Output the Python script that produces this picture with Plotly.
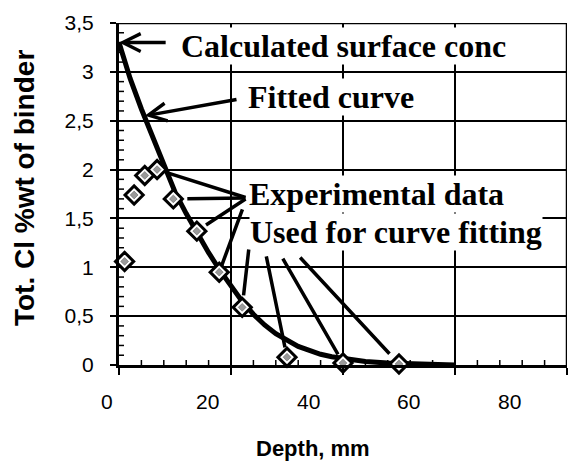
import plotly.graph_objects as go

# Measured total chloride profile (depth in mm, % by weight of binder)
depth_mm = [1, 2.7, 4.6, 6.8, 9.7, 13.9, 17.9, 22, 30, 40, 50]
cl_pct = [1.06, 1.74, 1.94, 2.00, 1.70, 1.37, 0.95, 0.59, 0.08, 0.02, 0.01]

# Fitted diffusion profile
fit_depth = [0, 2, 4, 6, 8, 10, 12, 14, 16, 18, 20, 22, 24, 26, 28, 30,
             32, 34, 36, 38, 40, 44, 48, 52, 56, 60]
fit_cl = [3.30, 2.93, 2.62, 2.33, 2.04, 1.77, 1.55, 1.34, 1.15, 0.97, 0.80,
          0.65, 0.52, 0.41, 0.32, 0.25, 0.19, 0.15, 0.11, 0.085, 0.065,
          0.035, 0.02, 0.01, 0.005, 0.0]

# Axis ticks
x_ticks = [0, 20, 40, 60, 80]
x_labels = ["0", "20", "40", "60", "80"]
y_ticks = [0, 0.5, 1, 1.5, 2, 2.5, 3, 3.5]
y_labels = ["0", "0,5", "1", "1,5", "2", "2,5", "3", "3,5"]
x_minor = [v for v in range(4, 80, 4) if v % 20]
y_minor = [round(k * 0.1, 1) for k in range(1, 35) if k % 5]

SANS = "Liberation Sans, Arial, sans-serif"
SERIF = "Liberation Serif, Times New Roman, serif"

W, H = 583, 463
MARGIN = dict(l=119, r=16, t=23, b=98)
X_RANGE = [x_ticks[0], x_ticks[-1]]
Y_RANGE = [y_ticks[0], y_ticks[-1]]
# data units per screen pixel
DX = (X_RANGE[1] - X_RANGE[0]) / (W - MARGIN["l"] - MARGIN["r"])
DY = (Y_RANGE[1] - Y_RANGE[0]) / (H - MARGIN["t"] - MARGIN["b"])

# the depth labels sit on a slightly narrower scale than the plot frame
LABEL_SCALE, LABEL_SHIFT = 0.897, -2.1


def segments(pairs):
    xs, ys = [], []
    for (x0, y0), (x1, y1) in pairs:
        xs += [x0, x1, None]
        ys += [y0, y1, None]
    return xs, ys


def frame_trace(pairs, width):
    xs, ys = segments(pairs)
    return go.Scatter(x=xs, y=ys, mode="lines", cliponaxis=False,
                      line=dict(color="black", width=width),
                      showlegend=False, hoverinfo="skip")


fig = go.Figure()

# vertical grid lines
fig.add_trace(frame_trace(
    [((v, Y_RANGE[0]), (v, Y_RANGE[1])) for v in x_ticks[1:-1]], 1.5))
# top and right edges of the frame
fig.add_trace(frame_trace(
    [((X_RANGE[0], Y_RANGE[1]), (X_RANGE[1], Y_RANGE[1])),
     ((X_RANGE[1], Y_RANGE[0]), (X_RANGE[1], Y_RANGE[1]))], 2.5))
# major depth ticks (outside) and minor ticks (inside)
fig.add_trace(frame_trace(
    [((v, Y_RANGE[0]), (v, Y_RANGE[0] - 7 * DY)) for v in x_ticks]
    + [((v, Y_RANGE[0]), (v, Y_RANGE[0] + 5 * DY)) for v in x_minor]
    + [((X_RANGE[0], v), (X_RANGE[0] + 5 * DX, v)) for v in y_minor], 1.5))

fig.add_trace(go.Scatter(
    x=fit_depth, y=fit_cl, mode="lines",
    line=dict(color="black", width=5), cliponaxis=False, showlegend=False,
))
fig.add_trace(go.Scatter(
    x=depth_mm, y=cl_pct, mode="markers", cliponaxis=False, showlegend=False,
    marker=dict(symbol="diamond", size=14, color="white",
                line=dict(color="black", width=3)),
))
fig.add_trace(go.Scatter(
    x=depth_mm, y=cl_pct, mode="markers", cliponaxis=False, showlegend=False,
    marker=dict(symbol="diamond", size=6, color="#9a9a9a",
                line=dict(color="#555555", width=0.5)),
))

annotations = []

# text labels with white boxes over the grid
for text, ax_, ay_ in [
    ("Calculated surface conc", 10.9, 3.265),
    ("Fitted curve", 22.86, 2.738),
    ("Experimental data", 23.0, 1.75),
    ("Used for curve fitting", 23.2, 1.361),
]:
    annotations.append(dict(
        text=text, x=ax_, y=ay_, xref="x", yref="y", showarrow=False,
        xanchor="left", yanchor="middle", bgcolor="white", borderpad=0,
        font=dict(family=SERIF, size=32, color="black", weight="bold"),
    ))

# arrows to the surface concentration and the fitted curve
annotations.append(dict(
    text="", x=fit_depth[0], y=fit_cl[0], xref="x", yref="y",
    ax=8.6, ay=3.30, axref="x", ayref="y", showarrow=True,
    arrowhead=5, arrowsize=1.0, arrowwidth=3.5, arrowcolor="black",
))
annotations.append(dict(
    text="", x=4.6, y=2.55, xref="x", yref="y",
    ax=21.25, ay=2.72, axref="x", ayref="y", showarrow=True,
    arrowhead=5, arrowsize=1.0, arrowwidth=3.5, arrowcolor="black",
))

# pointer lines from the labels to the data points
pointers = [
    (3, 22.86, 1.709, 11), (4, 22.86, 1.709, 14), (5, 22.86, 1.709, 11),
    (6, 22.14, 1.607, 7),
    (7, 23.2, 1.197, 12), (8, 26.25, 1.126, 10), (9, 29.1, 1.105, 10),
    (10, 32.1, 1.116, 14),
]
for i, tx, ty, so in pointers:
    annotations.append(dict(
        text="", x=depth_mm[i], y=cl_pct[i], xref="x", yref="y",
        ax=tx, ay=ty, axref="x", ayref="y", showarrow=True,
        arrowhead=0, arrowwidth=3.5, arrowcolor="black", standoff=so,
    ))

# depth tick labels
for v, lab in zip(x_ticks, x_labels):
    annotations.append(dict(
        text=lab, x=(LABEL_SHIFT + LABEL_SCALE * v) / X_RANGE[1], y=-0.108,
        xref="paper", yref="paper", showarrow=False,
        xanchor="center", yanchor="middle",
        font=dict(family=SANS, size=21, color="black"),
    ))

# axis titles
annotations.append(dict(
    text="Tot. Cl %wt of binder", x=-0.212, y=0.5175, xref="paper",
    yref="paper", showarrow=False, textangle=-90,
    xanchor="center", yanchor="middle",
    font=dict(family=SANS, size=28, color="black", weight="bold"),
))
annotations.append(dict(
    text="Depth, mm", x=0.433, y=-0.2427, xref="paper", yref="paper",
    showarrow=False, xanchor="center", yanchor="middle",
    font=dict(family=SANS, size=22, color="black", weight="bold"),
))

fig.update_layout(
    width=W, height=H, autosize=False,
    margin=dict(**MARGIN, autoexpand=False),
    paper_bgcolor="white", plot_bgcolor="white",
    font=dict(family=SANS, color="black"),
    showlegend=False,
    annotations=annotations,
    xaxis=dict(
        range=X_RANGE, tickvals=x_ticks, showticklabels=False,
        showgrid=True, gridcolor="black", gridwidth=1.5,
        showline=True, linecolor="black", linewidth=3,
        ticks="outside", ticklen=7, tickwidth=1.5, tickcolor="black",
        zeroline=False, fixedrange=True,
    ),
    yaxis=dict(
        range=Y_RANGE, tickvals=y_ticks, ticktext=y_labels,
        tickfont=dict(family=SANS, size=21, color="black"),
        showgrid=True, gridcolor="black", gridwidth=1.5,
        showline=True, linecolor="black", linewidth=3,
        ticks="outside", ticklen=6, tickwidth=1.5, tickcolor="black",
        ticklabelstandoff=12,
        zeroline=False, fixedrange=True,
    ),
)

fig.write_html("out.html")
